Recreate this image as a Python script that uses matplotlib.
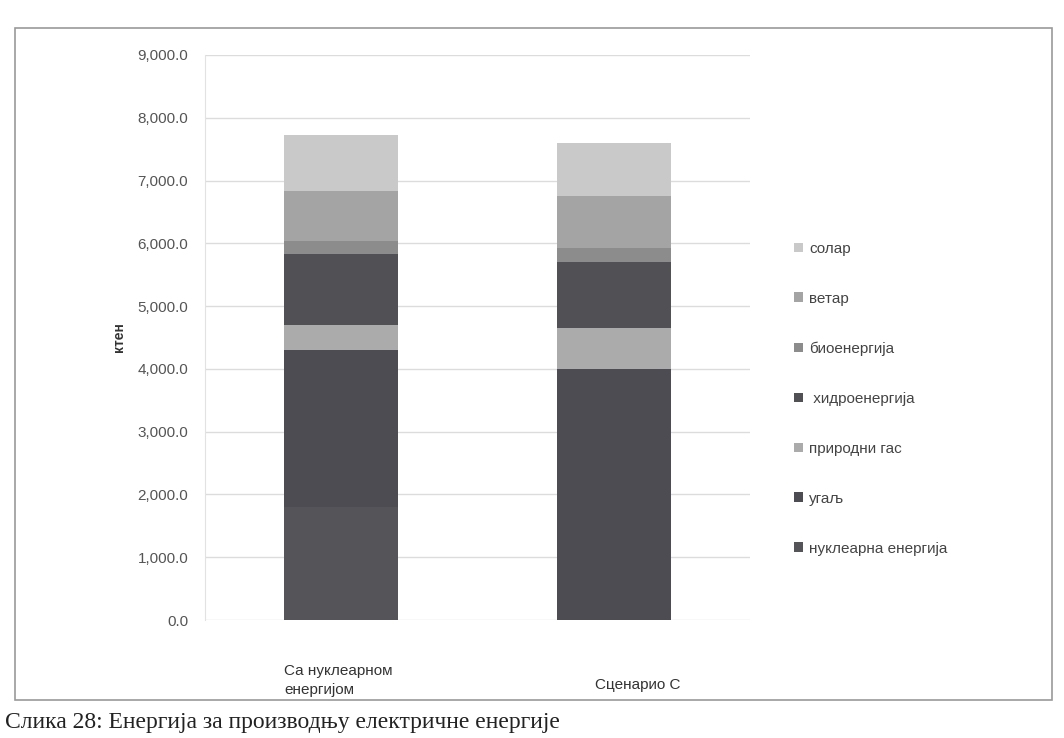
import matplotlib
matplotlib.use("Agg")
import matplotlib.pyplot as plt
from matplotlib.patches import Rectangle
import numpy as np

plt.rcParams['font.family'] = ['Liberation Sans', 'DejaVu Sans']

categories = ["Са нуклеарном\nенергијом", "Сценарио С"]
series_names = ["нуклеарна енергија", "угаљ", "природни гас", " хидроенергија",
                "биоенергија", "ветар", "солар"]
nuclear = [1800, 0]
coal = [2500, 4000]
gas = [400, 650]
hydro = [1130, 1050]
bio = [200, 230]
wind = [800, 820]
solar = [900, 850]
series_values = [nuclear, coal, gas, hydro, bio, wind, solar]
colors = ["#545459", "#4c4c52", "#ababab", "#505055", "#8c8c8c", "#a4a4a4", "#c9c9c9"]
yticks = [0, 1000, 2000, 3000, 4000, 5000, 6000, 7000, 8000, 9000]

W, H = 1064, 738
fig = plt.figure(figsize=(W / 100, H / 100), dpi=100)
fig.patch.set_facecolor("white")

# outer chart frame
fig.add_artist(Rectangle((15 / W, 1 - 700 / H), (1052 - 15) / W, (700 - 28) / H,
                         transform=fig.transFigure, fill=False,
                         edgecolor="#9a9a9a", linewidth=1.2))

ax = fig.add_axes([205 / W, 1 - 620 / H, 545 / W, (620 - 55) / H])
x = np.arange(len(categories))
bottom = np.zeros(len(categories))
handles = []
for name, vals, c in zip(series_names, series_values, colors):
    b = ax.bar(x, vals, width=0.42, bottom=bottom, color=c, label=name, zorder=3)
    handles.append(b)
    bottom += np.array(vals, dtype=float)

ax.set_xlim(-0.5, 1.5)
ax.set_ylim(0, 9000)
ax.set_yticks(yticks)
ax.set_yticklabels([f"{v:,.1f}" for v in yticks], fontsize=11, color="#555555")
ax.set_xticks(x)
ax.set_xticklabels([])
ax.tick_params(axis="x", length=0)
ax.tick_params(axis="y", length=0, pad=12)

# category labels placed below the bars
cat_dx = [-0.21, -0.07]
cat_y = [-0.107, -0.115]
for xi, lab, dx, yy in zip(x, categories, cat_dx, cat_y):
    ax.text(xi + dx, yy, lab, transform=ax.get_xaxis_transform(), ha="left",
            va="center", fontsize=11, color="#333333", linespacing=1.5)

ax.grid(axis="y", color="#dcdcdc", linewidth=1, zorder=0)
for s in ["top", "right", "bottom"]:
    ax.spines[s].set_visible(False)
ax.spines["left"].set_color("#e2e2e2")
ax.set_ylabel("ктен", fontsize=10, color="#333333", fontweight="bold", labelpad=8)

leg = fig.legend(handles[::-1], series_names[::-1], loc="upper left",
                 bbox_to_anchor=(780 / W, 1 - 228 / H), frameon=False,
                 fontsize=11, labelspacing=2.35, handlelength=0.6,
                 handleheight=0.6, handletextpad=0.4, labelcolor="#444444")

fig.text(5 / W, 1 - 728 / H, "Слика 28: Енергија за производњу електричне енергије",
         fontsize=17, family=["Liberation Serif", "DejaVu Serif"], color="#222222",
         va="baseline", ha="left")

fig.savefig("out.png", dpi=100)
